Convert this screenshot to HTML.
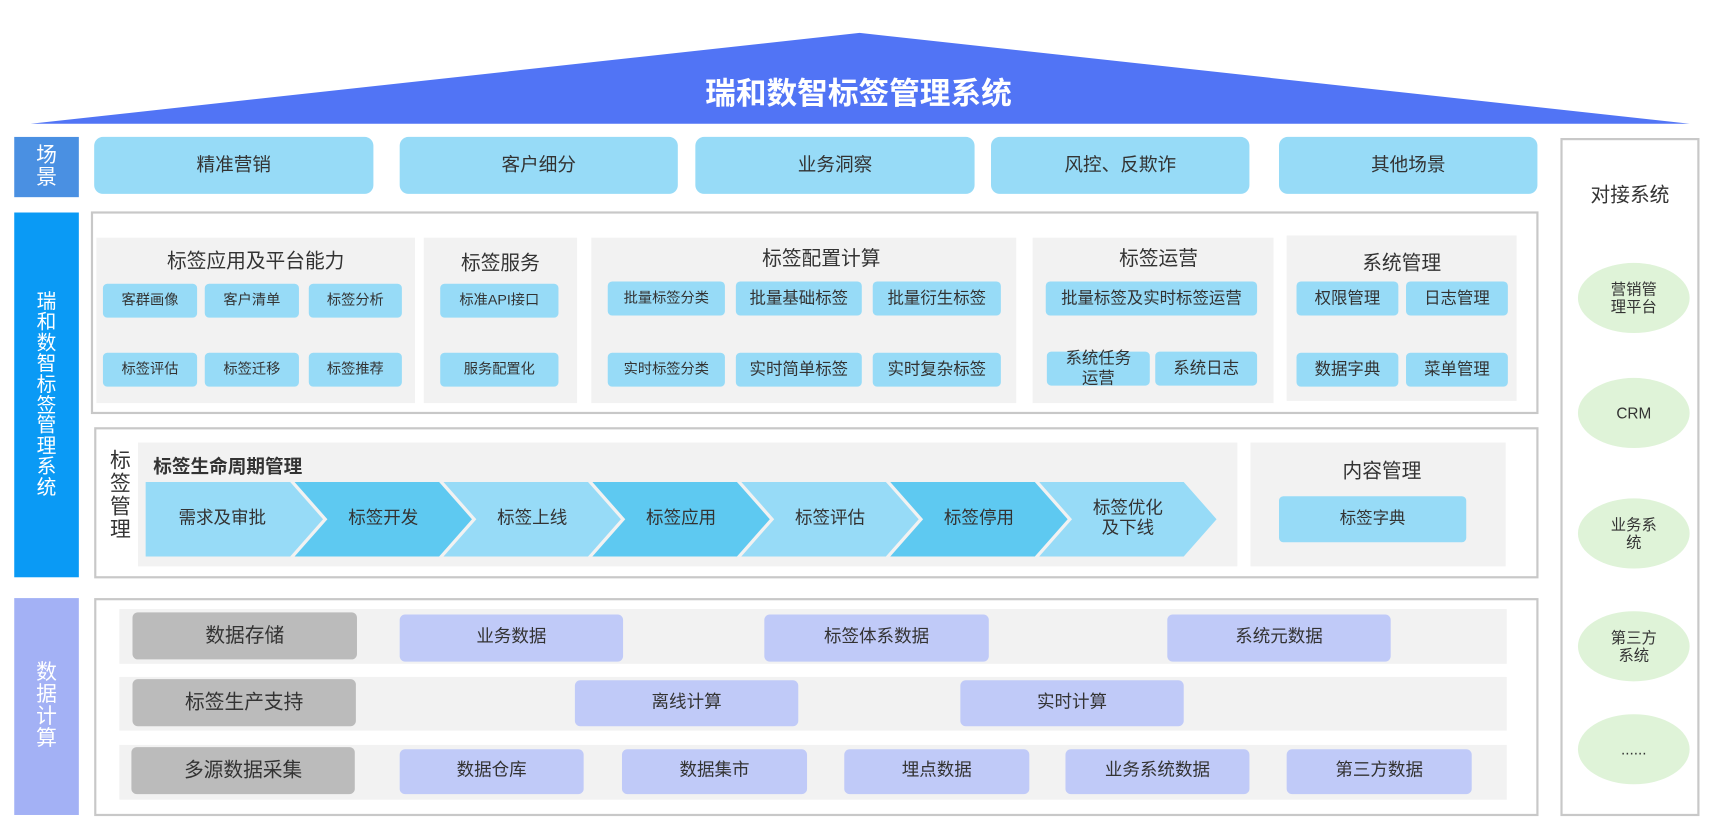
<!DOCTYPE html>
<html><head><meta charset="utf-8"><style>
*{margin:0;padding:0;box-sizing:border-box}
html,body{width:1717px;height:838px;overflow:hidden;background:#fff}
#w{position:absolute;left:0;top:0;width:1568px;height:765px;transform:scale(1.09503,1.0954);transform-origin:0 0;font-family:"Liberation Sans","Noto Sans CJK SC",sans-serif;color:#333}
.a{position:absolute}
.c{position:absolute;display:flex;align-items:center;justify-content:center;text-align:center;line-height:1.15}
.s{background:#97dbf7;border-radius:8px;font-size:17px}
.ch{background:#97dbf7;border-radius:4px;font-size:13px}
.ch2{background:#97dbf7;border-radius:4px;font-size:15px}
.g{background:#f2f2f2}
.t{position:absolute;font-size:18px;text-align:center}
.bx{position:absolute;border:2px solid #c8c8c8}
.p{background:#c0caf8;border-radius:5px;font-size:16px}
.gl{background:#bbbbbb;border-radius:5px;font-size:18px}
.el{background:#dff3d8;border-radius:50%;font-size:14px}
.vl{position:absolute;color:#fff;font-size:19px;display:flex;align-items:center;justify-content:center;text-align:center;line-height:1.05}
</style></head><body><div id="w">
<svg class="a" style="left:0;top:0" width="1568" height="765">
<polygon points="785,30 1543,113 28,113" fill="#5174f5"/>
<g fill="#97dbf7"><polygon points="133,440 265,440 295,474 265,508 133,508"/>
<polygon points="405,440 537,440 567,474 537,508 405,508 435,474"/>
<polygon points="677,440 809,440 839,474 809,508 677,508 707,474"/>
<polygon points="949,440 1081,440 1111,474 1081,508 949,508 979,474"/></g>
<g fill="#5ec9f1"><polygon points="269,440 401,440 431,474 401,508 269,508 299,474"/>
<polygon points="541,440 673,440 703,474 673,508 541,508 571,474"/>
<polygon points="813,440 945,440 975,474 945,508 813,508 843,474"/></g>
</svg>
<div class="t" style="left:0;width:1568px;top:64px;color:#fff;font-size:28px;font-weight:bold">瑞和数智标签管理系统</div>
<div class="vl" style="left:13px;top:125px;width:59px;height:55px;background:#4a90e2">场<br>景</div>
<div class="vl" style="left:13px;top:194px;width:59px;height:333px;background:#0a9af5;font-size:18px">瑞<br>和<br>数<br>智<br>标<br>签<br>管<br>理<br>系<br>统</div>
<div class="vl" style="left:13px;top:546px;width:59px;height:198px;background:#a3b1f5">数<br>据<br>计<br>算</div>
<div class="c s" style="left:86px;top:125px;width:255px;height:52px">精准营销</div>
<div class="c s" style="left:365px;top:125px;width:254px;height:52px">客户细分</div>
<div class="c s" style="left:635px;top:125px;width:255px;height:52px">业务洞察</div>
<div class="c s" style="left:905px;top:125px;width:236px;height:52px">风控、反欺诈</div>
<div class="c s" style="left:1168px;top:125px;width:236px;height:52px">其他场景</div>
<div class="bx" style="left:1425px;top:126px;width:127px;height:619px"></div>
<div class="t" style="left:1425px;width:127px;top:164px">对接系统</div>
<div class="c el" style="left:1441px;top:240px;width:102px;height:64px">营销管<br>理平台</div>
<div class="c el" style="left:1441px;top:345px;width:102px;height:64px">CRM</div>
<div class="c el" style="left:1441px;top:455px;width:102px;height:64px">业务系<br>统</div>
<div class="c el" style="left:1441px;top:558px;width:102px;height:64px">第三方<br>系统</div>
<div class="c el" style="left:1441px;top:652px;width:102px;height:64px">......</div>
<div class="bx" style="left:83px;top:193px;width:1322px;height:185px"></div>
<div class="a g" style="left:88px;top:217px;width:291px;height:151px"></div>
<div class="t" style="left:88px;width:291px;top:224px">标签应用及平台能力</div>
<div class="c ch" style="left:94px;top:259px;width:86px;height:31px">客群画像</div>
<div class="c ch" style="left:187px;top:259px;width:86px;height:31px">客户清单</div>
<div class="c ch" style="left:282px;top:259px;width:85px;height:31px">标签分析</div>
<div class="c ch" style="left:94px;top:322px;width:86px;height:31px">标签评估</div>
<div class="c ch" style="left:187px;top:322px;width:86px;height:31px">标签迁移</div>
<div class="c ch" style="left:282px;top:322px;width:85px;height:31px">标签推荐</div>
<div class="a g" style="left:387px;top:217px;width:140px;height:151px"></div>
<div class="t" style="left:387px;width:140px;top:226px">标签服务</div>
<div class="c ch" style="left:402px;top:259px;width:108px;height:31px">标准API接口</div>
<div class="c ch" style="left:402px;top:322px;width:108px;height:31px">服务配置化</div>
<div class="a g" style="left:540px;top:217px;width:388px;height:151px"></div>
<div class="t" style="left:540px;width:420px;top:222px">标签配置计算</div>
<div class="c ch" style="left:555px;top:257px;width:107px;height:31px">批量标签分类</div>
<div class="c ch2" style="left:672px;top:257px;width:115px;height:31px">批量基础标签</div>
<div class="c ch2" style="left:797px;top:257px;width:117px;height:31px">批量衍生标签</div>
<div class="c ch" style="left:555px;top:322px;width:107px;height:31px">实时标签分类</div>
<div class="c ch2" style="left:672px;top:322px;width:115px;height:31px">实时简单标签</div>
<div class="c ch2" style="left:797px;top:322px;width:117px;height:31px">实时复杂标签</div>
<div class="a g" style="left:943px;top:217px;width:220px;height:151px"></div>
<div class="t" style="left:943px;width:230px;top:222px">标签运营</div>
<div class="c ch2" style="left:955px;top:257px;width:193px;height:31px">批量标签及实时标签运营</div>
<div class="c ch2" style="left:956px;top:321px;width:94px;height:31px">系统任务<br>运营</div>
<div class="c ch2" style="left:1055px;top:321px;width:93px;height:31px">系统日志</div>
<div class="a g" style="left:1175px;top:215px;width:210px;height:151px"></div>
<div class="t" style="left:1175px;width:210px;top:226px">系统管理</div>
<div class="c ch2" style="left:1184px;top:257px;width:93px;height:31px">权限管理</div>
<div class="c ch2" style="left:1284px;top:257px;width:93px;height:31px">日志管理</div>
<div class="c ch2" style="left:1184px;top:322px;width:93px;height:31px">数据字典</div>
<div class="c ch2" style="left:1284px;top:322px;width:93px;height:31px">菜单管理</div>
<div class="bx" style="left:86px;top:390px;width:1319px;height:138px"></div>
<div class="t" style="left:98px;width:24px;top:412px;line-height:1.1;font-size:19px">标<br>签<br>管<br>理</div>
<div class="a g" style="left:126px;top:404px;width:1004px;height:113px;z-index:-1"></div>
<div class="t" style="left:140px;top:412px;font-weight:bold;font-size:17px">标签生命周期管理</div>
<div class="c" style="left:133px;top:440px;width:140px;height:68px;font-size:16px">需求及审批</div>
<div class="c" style="left:284px;top:440px;width:132px;height:68px;font-size:16px">标签开发</div>
<div class="c" style="left:420px;top:440px;width:132px;height:68px;font-size:16px">标签上线</div>
<div class="c" style="left:556px;top:440px;width:132px;height:68px;font-size:16px">标签应用</div>
<div class="c" style="left:692px;top:440px;width:132px;height:68px;font-size:16px">标签评估</div>
<div class="c" style="left:828px;top:440px;width:132px;height:68px;font-size:16px">标签停用</div>
<div class="c" style="left:964px;top:440px;width:132px;height:68px;font-size:16px">标签优化<br>及下线</div>
<div class="a g" style="left:1142px;top:404px;width:233px;height:113px"></div>
<div class="t" style="left:1142px;width:240px;top:416px">内容管理</div>
<div class="c ch2" style="left:1168px;top:453px;width:171px;height:42px">标签字典</div>
<div class="bx" style="left:86px;top:546px;width:1319px;height:199px"></div>
<div class="a g" style="left:109px;top:556px;width:1267px;height:50px"></div>
<div class="a g" style="left:109px;top:618px;width:1267px;height:49px"></div>
<div class="a g" style="left:109px;top:680px;width:1267px;height:50px"></div>
<div class="c gl" style="left:121px;top:559px;width:205px;height:43px">数据存储</div>
<div class="c gl" style="left:121px;top:620px;width:204px;height:43px">标签生产支持</div>
<div class="c gl" style="left:120px;top:682px;width:204px;height:43px">多源数据采集</div>
<div class="c p" style="left:365px;top:561px;width:204px;height:43px">业务数据</div>
<div class="c p" style="left:698px;top:561px;width:205px;height:43px">标签体系数据</div>
<div class="c p" style="left:1066px;top:561px;width:204px;height:43px">系统元数据</div>
<div class="c p" style="left:525px;top:621px;width:204px;height:42px">离线计算</div>
<div class="c p" style="left:877px;top:621px;width:204px;height:42px">实时计算</div>
<div class="c p" style="left:365px;top:684px;width:168px;height:41px">数据仓库</div>
<div class="c p" style="left:568px;top:684px;width:169px;height:41px">数据集市</div>
<div class="c p" style="left:771px;top:684px;width:169px;height:41px">埋点数据</div>
<div class="c p" style="left:973px;top:684px;width:168px;height:41px">业务系统数据</div>
<div class="c p" style="left:1175px;top:684px;width:169px;height:41px">第三方数据</div>
</div></body></html>
